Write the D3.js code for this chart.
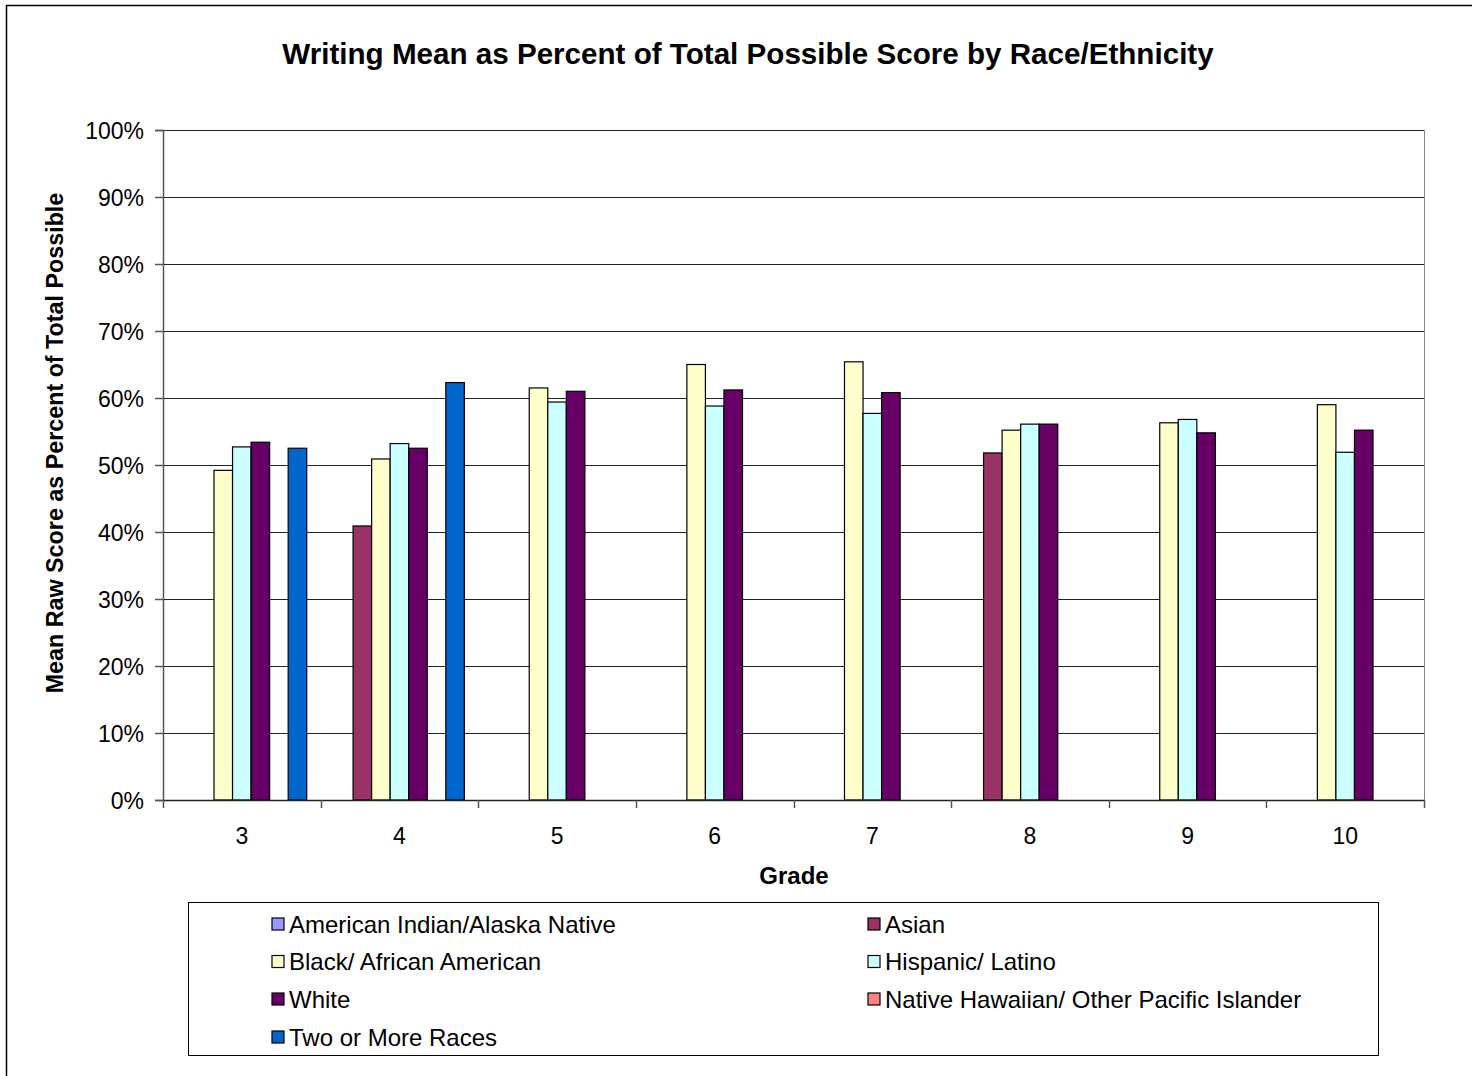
<!DOCTYPE html>
<html>
<head>
<meta charset="utf-8">
<script src="https://cdn.jsdelivr.net/npm/d3@7"></script>
<style>
  html, body { margin: 0; padding: 0; background: #fff; }
  svg { display: block; }
  text { font-family: Arial, "Liberation Sans", sans-serif; fill: #000; }
</style>
</head>
<body>
<svg id="chart" width="1472" height="1076"></svg>
<script>
// ---- data ----
const grades = ["3", "4", "5", "6", "7", "8", "9", "10"];
const seriesNames = [
  "American Indian/Alaska Native",
  "Asian",
  "Black/ African American",
  "Hispanic/ Latino",
  "White",
  "Native Hawaiian/ Other Pacific Islander",
  "Two or More Races"
];
const seriesColors = ["#9999FF", "#993366", "#FFFFCC", "#CCFFFF", "#660066", "#FF8080", "#0066CC"];
// values in percent; null = not reported
const americanIndian = [null, null, null, null, null, null, null, null];
const asian          = [null, 40.9, null, null, null, 51.8, null, null];
const black          = [49.2, 50.9, 61.5, 65.0, 65.4, 55.2, 56.3, 59.0];
const hispanic       = [52.7, 53.2, 59.4, 58.8, 57.7, 56.1, 56.8, 51.9];
const white          = [53.4, 52.5, 61.0, 61.2, 60.8, 56.1, 54.8, 55.2];
const nativeHawaiian = [null, null, null, null, null, null, null, null];
const twoOrMore      = [52.5, 62.3, null, null, null, null, null, null];
const seriesValues = [americanIndian, asian, black, hispanic, white, nativeHawaiian, twoOrMore];
const yTicks = [0, 10, 20, 30, 40, 50, 60, 70, 80, 90, 100];

const title = "Writing Mean as Percent of Total Possible Score by Race/Ethnicity";
const xTitle = "Grade";
const yTitle = "Mean Raw Score as Percent of Total Possible";

// ---- layout ----
const svg = d3.select("#chart");
const plot = { left: 163, right: 1424, top: 130, bottom: 800 };
const FONT = "Arial, 'Liberation Sans', sans-serif";

// outer chart border
svg.append("rect")
  .attr("x", 6.5).attr("y", 5.5)
  .attr("width", 1480).attr("height", 1100)
  .attr("fill", "#fff").attr("stroke", "#000").attr("stroke-width", 1.5);

const x0 = d3.scaleBand().domain(grades).range([plot.left, plot.right]).paddingInner(0).paddingOuter(0);
const x1 = d3.scaleBand().domain(d3.range(seriesNames.length)).range([0, x0.bandwidth()])
  .paddingInner(0).paddingOuter(0.75);
const y = d3.scaleLinear().domain([0, 100]).range([plot.bottom, plot.top]);

// gridlines
svg.append("g").selectAll("line").data(yTicks.filter(d => d > 0)).join("line")
  .attr("x1", plot.left).attr("x2", plot.right)
  .attr("y1", d => Math.round(y(d)) + 0.5).attr("y2", d => Math.round(y(d)) + 0.5)
  .attr("stroke", "#222").attr("stroke-width", 1);

// plot area right border
svg.append("line")
  .attr("x1", plot.right + 0.5).attr("x2", plot.right + 0.5)
  .attr("y1", plot.top).attr("y2", plot.bottom)
  .attr("stroke", "#888").attr("stroke-width", 1);

// bars
const flat = [];
grades.forEach((g, gi) => {
  seriesValues.forEach((arr, si) => {
    if (arr[gi] != null) flat.push({ g, si, v: arr[gi] });
  });
});
svg.append("g").selectAll("rect").data(flat).join("rect")
  .attr("x", d => x0(d.g) + x1(d.si))
  .attr("width", x1.bandwidth())
  .attr("y", d => y(d.v))
  .attr("height", d => y(0) - y(d.v))
  .attr("fill", d => seriesColors[d.si])
  .attr("stroke", "#000").attr("stroke-width", 1.2);

// y axis
const yAxis = d3.axisLeft(y).tickValues(yTicks).tickFormat(d => d + "%").tickSize(8).tickPadding(11);
const gy = svg.append("g").attr("transform", `translate(${plot.left},0)`).call(yAxis);
gy.select(".domain").attr("stroke", "#555").attr("stroke-width", 1.5);
gy.selectAll(".tick line").attr("stroke", "#555").attr("stroke-width", 1.5);
gy.selectAll(".tick text").style("font-size", "23px").attr("font-family", FONT).attr("dy", "0.36em");

// x axis
const xAxis = d3.axisBottom(x0).tickSize(0).tickPadding(28);
const gx = svg.append("g").attr("transform", `translate(0,${plot.bottom})`).call(xAxis);
gx.select(".domain").attr("stroke", "#222").attr("stroke-width", 1.5);
gx.selectAll(".tick text").style("font-size", "23px").attr("font-family", FONT);
// tick marks at category boundaries
const boundaries = grades.map(g => x0(g)).concat([x0(grades[grades.length - 1]) + x0.bandwidth()]);
svg.append("g").selectAll("line").data(boundaries).join("line")
  .attr("x1", d => Math.round(d) + 0.5).attr("x2", d => Math.round(d) + 0.5)
  .attr("y1", plot.bottom).attr("y2", plot.bottom + 8)
  .attr("stroke", "#555").attr("stroke-width", 1.5);

// titles
svg.append("text").attr("x", 748).attr("y", 64).attr("text-anchor", "middle")
  .style("font-size", "29.6px").style("font-weight", "bold").text(title);
svg.append("text").attr("x", 794).attr("y", 884).attr("text-anchor", "middle")
  .style("font-size", "24px").style("font-weight", "bold").text(xTitle);
svg.append("text").attr("transform", "translate(63,443) rotate(-90)").attr("text-anchor", "middle")
  .style("font-size", "23.3px").style("font-weight", "bold").text(yTitle);

// legend
const legend = { x: 188, y: 902, w: 1190, h: 153 };
svg.append("rect").attr("x", legend.x + 0.5).attr("y", legend.y + 0.5)
  .attr("width", legend.w).attr("height", legend.h)
  .attr("fill", "#fff").attr("stroke", "#000").attr("stroke-width", 1);
const colX = [272, 868];
const rowY = [924, 961.5, 999, 1037];
const lg = svg.append("g").selectAll("g").data(seriesNames).join("g")
  .attr("transform", (d, i) => `translate(${colX[i % 2]},${rowY[Math.floor(i / 2)]})`);
lg.append("rect").attr("x", 0).attr("y", -6).attr("width", 12).attr("height", 12)
  .attr("fill", (d, i) => seriesColors[i]).attr("stroke", "#000").attr("stroke-width", 1.2);
lg.append("text").attr("x", 17).attr("y", 0).attr("dy", "0.36em")
  .style("font-size", "24px").text(d => d);
</script>
</body>
</html>
